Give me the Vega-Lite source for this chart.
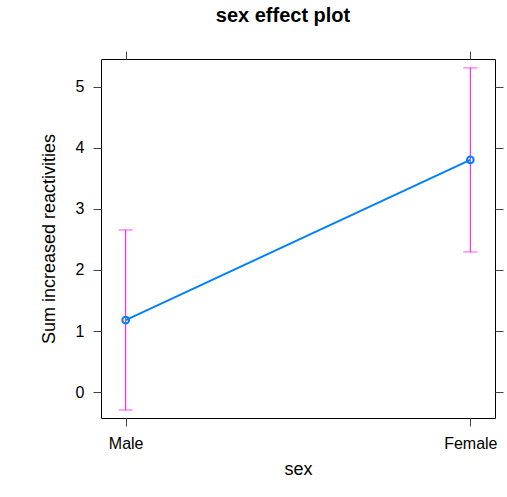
{
  "$schema": "https://vega.github.io/schema/vega-lite/v6.json",
  "width": 394,
  "height": 359,
  "autosize": {"type": "none"},
  "padding": {"left": 101, "top": 59, "right": 12, "bottom": 79},
  "background": "white",
  "title": {
    "text": "sex effect plot",
    "font": "Liberation Sans",
    "fontSize": 20,
    "fontWeight": "bold",
    "color": "black",
    "anchor": "middle",
    "frame": "group",
    "baseline": "alphabetic",
    "offset": 9,
    "dx": -15
  },
  "config": {
    "view": {"stroke": "black", "strokeWidth": 1},
    "axis": {
      "grid": false,
      "domain": false,
      "tickColor": "#444",
      "tickWidth": 1,
      "tickSize": 8,
      "labelFont": "Liberation Sans",
      "labelFontSize": 16,
      "labelColor": "black",
      "titleFont": "Liberation Sans",
      "titleFontSize": 18,
      "titleFontWeight": "normal",
      "titleColor": "black"
    }
  },
  "data": {
    "values": [
      {"sex": "Male", "fit": 1.18, "lower": -0.29, "upper": 2.655},
      {"sex": "Female", "fit": 3.80, "lower": 2.295, "upper": 5.305}
    ]
  },
  "layer": [
    {
      "mark": {"type": "rule", "color": "#ff00ff", "strokeWidth": 1},
      "encoding": {
        "x": {
          "field": "sex", "type": "nominal",
          "scale": {"type": "point", "domain": ["Male", "Female"], "padding": 0.0716},
          "axis": {"orient": "bottom", "title": "sex", "labelAngle": 0, "labelPadding": 9, "titlePadding": 9}
        },
        "y": {
          "field": "lower", "type": "quantitative",
          "scale": {"domain": [-0.42, 5.45], "nice": false, "zero": false},
          "axis": {"orient": "left", "title": "Sum increased reactivities", "values": [0, 1, 2, 3, 4, 5], "labelPadding": 9, "titlePadding": 17}
        },
        "y2": {"field": "upper"}
      }
    },
    {
      "mark": {"type": "tick", "color": "#ff00ff", "size": 14, "thickness": 1, "orient": "horizontal"},
      "encoding": {
        "x": {"field": "sex", "type": "nominal", "axis": null},
        "y": {"field": "lower", "type": "quantitative", "axis": null}
      }
    },
    {
      "mark": {"type": "tick", "color": "#ff00ff", "size": 14, "thickness": 1, "orient": "horizontal"},
      "encoding": {
        "x": {"field": "sex", "type": "nominal", "axis": null},
        "y": {"field": "upper", "type": "quantitative", "axis": null}
      }
    },
    {
      "mark": {"type": "line", "color": "#0080ff", "strokeWidth": 2},
      "encoding": {
        "x": {"field": "sex", "type": "nominal", "axis": null},
        "y": {"field": "fit", "type": "quantitative", "axis": null}
      }
    },
    {
      "mark": {"type": "point", "shape": "circle", "filled": false, "color": "#0080ff", "strokeWidth": 2, "size": 45, "opacity": 1},
      "encoding": {
        "x": {"field": "sex", "type": "nominal", "axis": {"orient": "top", "labels": false, "title": null}},
        "y": {"field": "fit", "type": "quantitative", "axis": {"orient": "right", "labels": false, "title": null, "values": [0, 1, 2, 3, 4, 5]}}
      }
    }
  ],
  "resolve": {"axis": {"x": "independent", "y": "independent"}}
}
